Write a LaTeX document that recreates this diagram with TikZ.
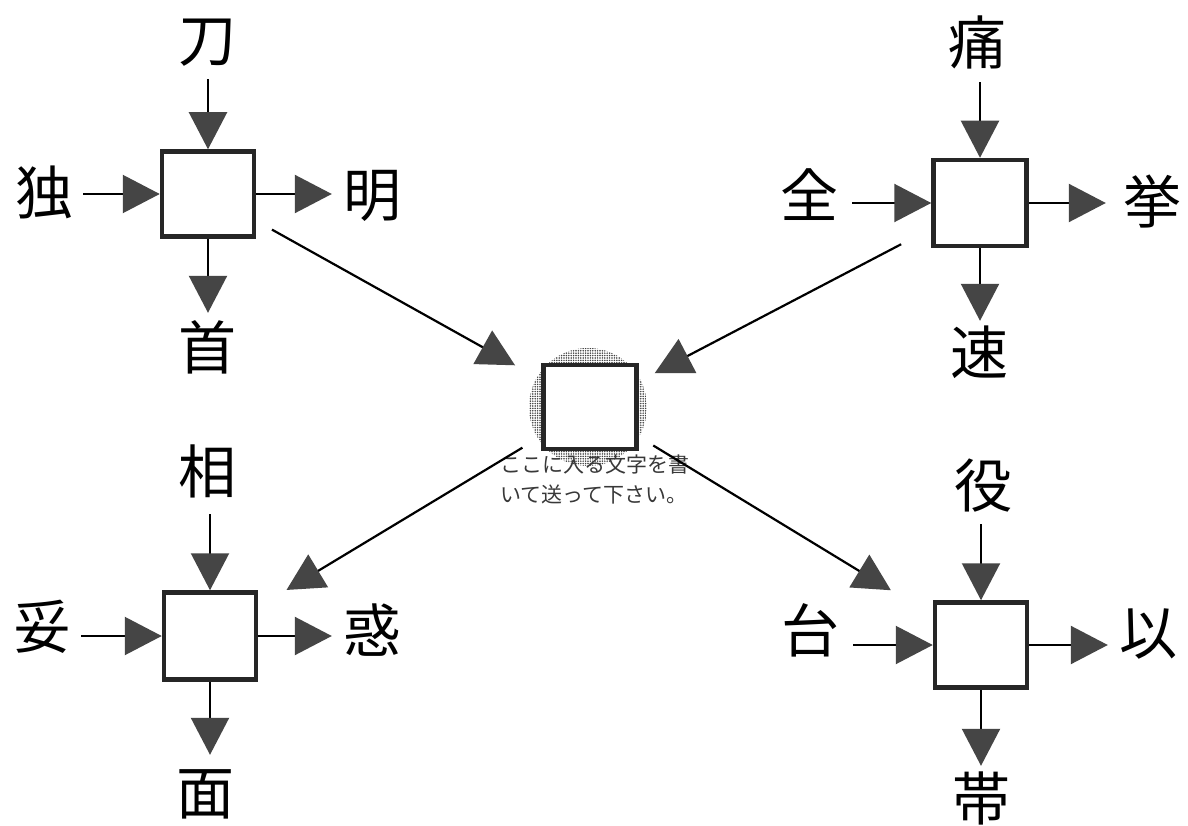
\documentclass[tikz,border=0pt]{standalone}
\usepackage{fontspec}
\newfontfamily\jp{Noto Sans CJK JP}
\usetikzlibrary{arrows.meta,patterns.meta}
\definecolor{tipgray}{gray}{0.27}
\definecolor{boxgray}{gray}{0.15}
\definecolor{notegray}{gray}{0.22}
\begin{document}
\begin{tikzpicture}[x=1pt,y=-1pt,
  charbox/.style={draw=boxgray, line width=4.5pt, fill=white, minimum width=92pt, minimum height=85pt, inner sep=0pt},
  kanji/.style={font=\jp\fontsize{58}{58}\selectfont, inner sep=0pt, text height=51pt, text depth=7pt},
  link/.style={line width=2.2pt, -{Triangle[length=37pt,width=38pt,color=tipgray]}},
  inlink/.style={link, shorten <=10pt},
  outlink/.style={link, shorten >=11pt},
  downlink/.style={link, shorten >=5pt},
  halo/.style={circle, minimum size=118pt, inner sep=0pt, pattern={Dots[radius=0.85pt,distance=2.4pt]}, pattern color=black!75},
  note/.style={font=\jp\fontsize{21}{30}\selectfont, text=notegray, align=left, inner sep=0pt}
]
\fill[white] (0,0) rectangle (1188,826);
\useasboundingbox (0,0) rectangle (1188,826);

% centre
\node[halo] (glow) at (588,407) {};
\node[charbox, minimum width=93pt, minimum height=84pt] (c) at (590,407) {};
\node[note, anchor=north west] (msg) at (500,455) {ここに入る文字を書\\いて送って下さい。};

% top-left group
\node[charbox] (b1) at (208,194) {};
\node[kanji] (t1) at (207,40) {刀};
\node[kanji] (l1) at (44,193) {独};
\node[kanji] (r1) at (372,195) {明};
\node[kanji] (d1) at (207,347) {首};
\draw[inlink] (t1.south -| b1) -- (b1.north);
\draw[inlink] (l1.east |- b1) -- (b1.west);
\draw[outlink] (b1.east) -- (r1.west |- b1);
\draw[downlink] (b1.south) -- (d1.north -| b1);

% top-right group
\node[charbox, minimum width=93pt, minimum height=86pt] (b2) at (980,203) {};
\node[kanji] (t2) at (977,43) {痛};
\node[kanji] (l2) at (809,196) {全};
\node[kanji] (r2) at (1152,202) {挙};
\node[kanji] (d2) at (979,352) {速};
\draw[inlink] (t2.south -| b2) -- (b2.north);
\draw[inlink, shorten <=14pt] (l2.east |- b2) -- (b2.west);
\draw[outlink, shorten >=17pt] (b2.east) -- (r2.west |- b2);
\draw[downlink, shorten >=2pt] (b2.south) -- (d2.north -| b2);

% bottom-left group
\node[charbox, minimum height=87pt] (b3) at (210,636) {};
\node[kanji] (t3) at (207,471) {相};
\node[kanji] (l3) at (42,626) {妥};
\node[kanji] (r3) at (372,630) {惑};
\node[kanji] (d3) at (205,792) {面};
\draw[inlink, shorten <=14pt] (t3.south -| b3) -- (b3.north);
\draw[inlink] (l3.east |- b3) -- (b3.west);
\draw[outlink] (b3.east) -- (r3.west |- b3);
\draw[downlink, shorten >=8pt] (b3.south) -- (d3.north -| b3);

% bottom-right group
\node[charbox] (b4) at (981,645) {};
\node[kanji] (t4) at (983,485) {役};
\node[kanji] (l4) at (810,630) {台};
\node[kanji] (r4) at (1148,632) {以};
\node[kanji] (d4) at (981,798) {帯};
\draw[inlink] (t4.south -| b4) -- (b4.north);
\draw[inlink, shorten <=14pt] (l4.east |- b4) -- (b4.west);
\draw[outlink] (b4.east) -- (r4.west |- b4);
\draw[downlink, shorten >=3pt] (b4.south) -- (d4.north -| b4);

% diagonals
\draw[link, shorten <=18pt, shorten >=30pt] (b1) -- (c);
\draw[link, shorten <=34pt, shorten >=18pt] (b2) -- (c);
\draw[link, shorten <=22pt, shorten >=33pt] (c) -- (b3);
\draw[link, shorten <=17pt, shorten >=49pt] (c) -- (b4);
\end{tikzpicture}
\end{document}
